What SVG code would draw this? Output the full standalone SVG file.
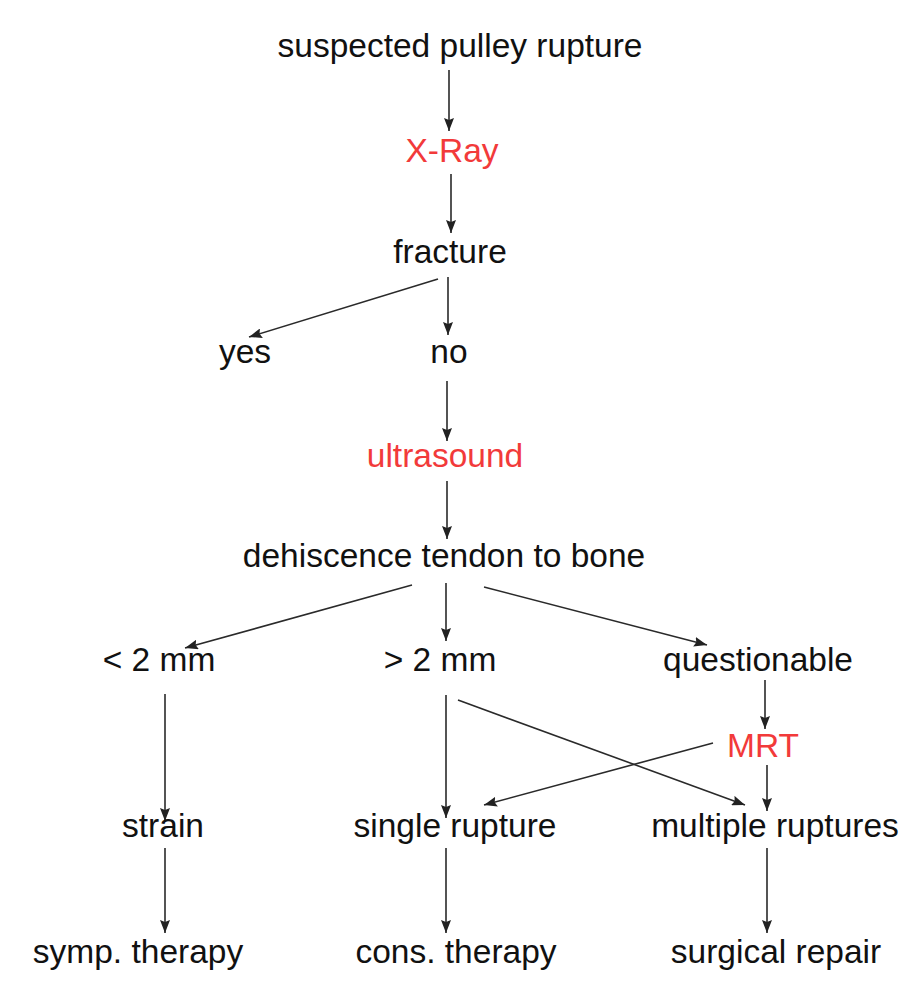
<svg xmlns="http://www.w3.org/2000/svg" width="917" height="994" viewBox="0 0 917 994">
<defs>
<style>
text{font-family:"Liberation Sans",Arial,sans-serif;font-size:33.5px;fill:#111;text-anchor:middle}
text.red{fill:#f23a3a}
.c line{stroke:#2a2a2a;stroke-width:1.6;fill:none}
</style>
<marker id="ah" viewBox="0 0 13 10" refX="13" refY="5" markerWidth="13" markerHeight="10" markerUnits="userSpaceOnUse" orient="auto">
<path d="M0,0 L13,5 L0,10 L2,5 z" fill="#222"/>
</marker>
</defs>
<rect width="917" height="994" fill="#fff"/>
<g class="c">
<line x1="449" y1="70" x2="449" y2="131" marker-end="url(#ah)"/>
<line x1="451" y1="174" x2="451" y2="233" marker-end="url(#ah)"/>
<line x1="438" y1="279" x2="249" y2="337" marker-end="url(#ah)"/>
<line x1="448" y1="277" x2="448" y2="335" marker-end="url(#ah)"/>
<line x1="447" y1="381" x2="447" y2="441" marker-end="url(#ah)"/>
<line x1="447" y1="481" x2="447" y2="539" marker-end="url(#ah)"/>
<line x1="412" y1="585" x2="185" y2="648" marker-end="url(#ah)"/>
<line x1="446" y1="583" x2="446" y2="641" marker-end="url(#ah)"/>
<line x1="484" y1="587" x2="707" y2="645" marker-end="url(#ah)"/>
<line x1="165" y1="694" x2="165" y2="821" marker-end="url(#ah)"/>
<line x1="446" y1="695" x2="446" y2="818" marker-end="url(#ah)"/>
<line x1="458" y1="700" x2="745" y2="805" marker-end="url(#ah)"/>
<line x1="765" y1="680" x2="765" y2="729" marker-end="url(#ah)"/>
<line x1="713" y1="743" x2="484" y2="805" marker-end="url(#ah)"/>
<line x1="767" y1="765" x2="767" y2="811" marker-end="url(#ah)"/>
<line x1="165" y1="848" x2="165" y2="933" marker-end="url(#ah)"/>
<line x1="446" y1="848" x2="446" y2="933" marker-end="url(#ah)"/>
<line x1="767" y1="848" x2="767" y2="933" marker-end="url(#ah)"/>
</g>
<g id="n-suspected"><text x="460" y="57">suspected pulley rupture</text></g>
<g id="n-xray"><text class="red" x="452" y="162">X-Ray</text></g>
<g id="n-fracture"><text x="450" y="263">fracture</text></g>
<g id="n-yes"><text x="245" y="363">yes</text></g>
<g id="n-no"><text x="449" y="363">no</text></g>
<g id="n-ultrasound"><text class="red" x="445" y="467">ultrasound</text></g>
<g id="n-dehiscence"><text x="444" y="567">dehiscence tendon to bone</text></g>
<g id="n-lt2"><text x="159" y="671">&lt; 2 mm</text></g>
<g id="n-gt2"><text x="440" y="671">&gt; 2 mm</text></g>
<g id="n-questionable"><text x="758" y="671">questionable</text></g>
<g id="n-mrt"><text class="red" x="763" y="757">MRT</text></g>
<g id="n-strain"><text x="163" y="837">strain</text></g>
<g id="n-single"><text x="455" y="837">single rupture</text></g>
<g id="n-multiple"><text x="775" y="837">multiple ruptures</text></g>
<g id="n-symp"><text x="138" y="963">symp. therapy</text></g>
<g id="n-cons"><text x="456" y="963">cons. therapy</text></g>
<g id="n-surgical"><text x="776" y="963">surgical repair</text></g>
</svg>
